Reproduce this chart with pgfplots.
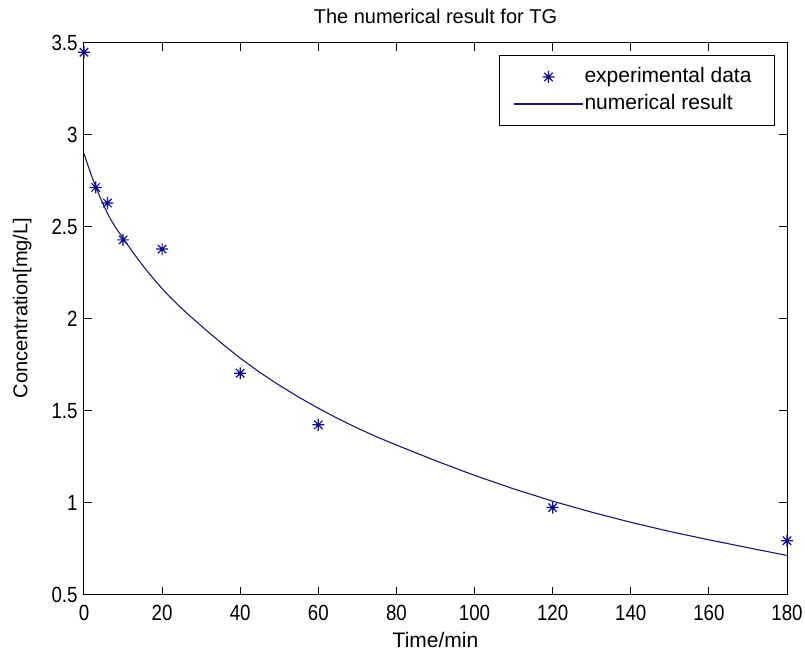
\documentclass[border=0pt]{standalone}
\usepackage{pgfplots}
\pgfplotsset{compat=1.18}
\usepackage{fontspec}
\setmainfont{Liberation Sans}
\definecolor{starblue}{rgb}{0.05,0.05,0.55}
\definecolor{lineblue}{rgb}{0.10,0.10,0.42}
\pgfdeclareplotmark{mstar}{%
  \pgfpathmoveto{\pgfqpoint{-\pgfplotmarksize}{0pt}}%
  \pgfpathlineto{\pgfqpoint{\pgfplotmarksize}{0pt}}%
  \pgfpathmoveto{\pgfqpoint{0pt}{-\pgfplotmarksize}}%
  \pgfpathlineto{\pgfqpoint{0pt}{\pgfplotmarksize}}%
  \pgfpathmoveto{\pgfqpoint{-0.7\pgfplotmarksize}{-0.7\pgfplotmarksize}}%
  \pgfpathlineto{\pgfqpoint{0.7\pgfplotmarksize}{0.7\pgfplotmarksize}}%
  \pgfpathmoveto{\pgfqpoint{-0.7\pgfplotmarksize}{0.7\pgfplotmarksize}}%
  \pgfpathlineto{\pgfqpoint{0.7\pgfplotmarksize}{-0.7\pgfplotmarksize}}%
  \pgfusepathqstroke}
\pgfplotsset{
  legstar/.style={legend image code/.code={\draw[mark repeat=2,mark phase=2,##1] plot coordinates {(0pt,0pt) (17.25pt,0pt) (34.5pt,0pt)};}},
  legline/.style={legend image code/.code={\draw[##1] (0pt,0pt) -- (34.5pt,0pt);}},
}
\begin{document}
\begin{tikzpicture}
\useasboundingbox (-42pt,-29pt) rectangle (360.5pt,297.5pt);
\begin{axis}[
  at={(0,0)}, anchor=south west,
  scale only axis,
  width=351.5pt, height=276pt,
  xmin=0, xmax=180, ymin=0.5, ymax=3.5,
  xtick={0,20,...,180},
  ytick={0.5,1,...,3.5},
  tick align=inside, tick pos=both,
  major tick length=4pt,
  every tick/.style={black, line width=0.5pt},
  axis line style={line width=0.5pt},
  clip=false,
  /pgf/number format/assume math mode=true,
  xticklabel={\scalebox{0.85}[1]{\pgfmathprintnumber{\tick}}},
  yticklabel={\scalebox{0.85}[1]{\pgfmathprintnumber{\tick}}},
  xticklabel style={font=\fontsize{11}{13}\selectfont, anchor=north, inner sep=0pt, yshift=-5pt},
  yticklabel style={font=\fontsize{11}{13}\selectfont, anchor=east, inner sep=0pt, xshift=-3pt},
  title={The numerical result for TG},
  title style={font=\fontsize{10}{12}\selectfont, at={(axis description cs:0.5,1)}, anchor=base, inner sep=0pt, yshift=3.5pt},
  xlabel={Time/min},
  xlabel style={font=\fontsize{10.5}{12}\selectfont, at={(axis description cs:0.5,-0.0815)}, anchor=center, inner sep=0pt},
  ylabel={Concentration[mg/L]},
  ylabel style={font=\fontsize{10}{12}\selectfont, at={(axis description cs:-0.088,0.52)}, anchor=center, inner sep=0pt},
  legend style={at={(axis description cs:1,1)}, anchor=north east, xshift=-6pt, yshift=-6pt,
    draw=black, line width=0.5pt, inner xsep=7pt, inner ysep=4pt,
    font=\fontsize{10.5}{12}\selectfont,
    nodes={inner xsep=0.5pt, inner ysep=2pt, text height=7.5pt, text depth=2pt},
    row sep=0pt},
  legend cell align=left,
]
\addplot[only marks, mark=mstar, mark size=3pt, color=starblue, line width=0.6pt, legstar]
  table {
x y
0 3.45
3 2.715
6 2.63
10 2.43
20 2.38
40 1.705
60 1.425
120 0.975
180 0.795
};
\addlegendentry{experimental data\hspace*{4pt}}
\addplot[no marks, color=lineblue, line width=0.55pt, legline]
  table {
x y
0 2.90
1 2.835
2 2.775
3 2.72
4 2.668
5 2.62
6 2.575
7 2.535
8 2.50
9 2.47
10 2.44
12 2.378
14 2.32
16 2.265
18 2.214
20 2.165
22 2.12
24 2.078
26 2.038
28 2.00
32 1.926
36 1.855
40 1.787
45 1.71
50 1.64
55 1.575
60 1.515
65 1.459
70 1.407
75 1.359
80 1.315
90 1.23
100 1.15
110 1.077
120 1.01
130 0.95
140 0.895
150 0.845
160 0.80
170 0.757
180 0.715
};
\addlegendentry{numerical result}
\end{axis}
\end{tikzpicture}
\end{document}
